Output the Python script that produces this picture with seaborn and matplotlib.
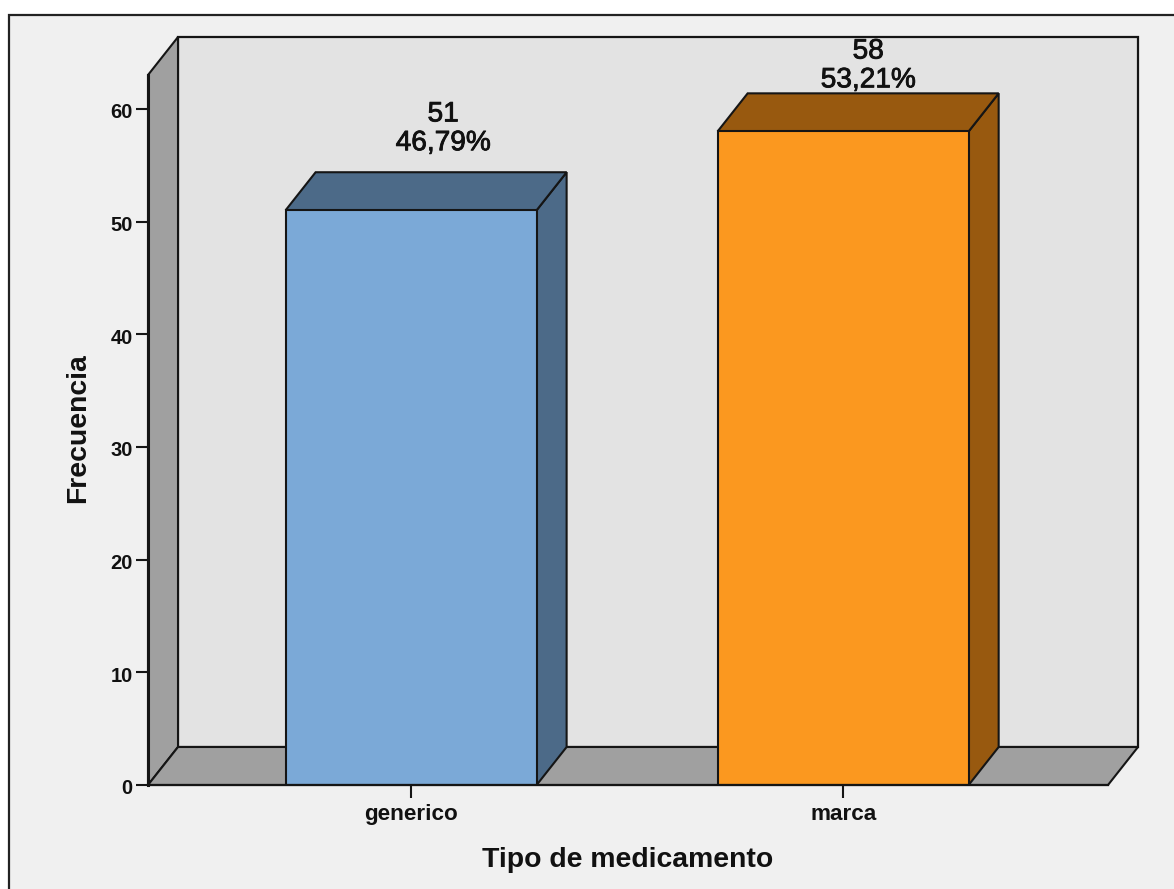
import matplotlib
matplotlib.use("Agg")
import matplotlib.pyplot as plt
from matplotlib import patheffects
from matplotlib.patches import Rectangle
from matplotlib.transforms import ScaledTranslation
import pandas as pd
import seaborn as sns

categories = ["generico", "marca"]
counts = [51, 58]
percents = ["46,79%", "53,21%"]
y_ticks = [0, 10, 20, 30, 40, 50, 60]
face_colors = ["#7BA9D7", "#FB981F"]
side_colors = ["#4C6A88", "#98590F"]
x_title = "Tipo de medicamento"
y_title = "Frecuencia"

W, H = 1174, 889
sns.set_theme(style="white")
plt.rcParams["font.family"] = ["Liberation Sans", "DejaVu Sans"]

fig = plt.figure(figsize=(W / 100, H / 100), dpi=100, facecolor="white")

# Chart panel: light grey area with a dark border, running off the right and bottom edges
fig.patches.append(Rectangle((9 / W, -0.02), 1.02, (H - 15) / H + 0.02, transform=fig.transFigure,
                             facecolor="#F0F0F0", edgecolor="#222222", linewidth=1.6, zorder=-5))

left, right, bottom, top = 148, 1108, 785, 75
ax = fig.add_axes([left / W, 1 - bottom / H, (right - left) / W, (bottom - top) / H])
ax.patch.set_alpha(0)

frame = pd.DataFrame({"tipo": categories, "n": counts})
sns.barplot(data=frame, x="tipo", y="n", hue="tipo", palette=face_colors, saturation=1,
            width=0.581, legend=False, edgecolor="#151515", linewidth=1.5, ax=ax, zorder=5)

x0, x1 = -0.609, 1.613
y0, y1 = 0, 63.0
ax.set_xlim(x0, x1)
ax.set_ylim(y0, y1)

# Depth of the pseudo-3D box, expressed in data units
dx = 30 / (right - left) * (x1 - x0)
dy = 38 / (bottom - top) * (y1 - y0)
line = dict(edgecolor="#151515", clip_on=False)

bars = list(ax.patches)

ax.fill([x0 + dx, x1 + dx, x1 + dx, x0 + dx], [dy, dy, y1 + dy, y1 + dy],
        facecolor="#E3E3E3", linewidth=1.6, zorder=1, **line)
ax.fill([x0, x0 + dx, x0 + dx, x0], [0, dy, y1 + dy, y1],
        facecolor="#A0A0A0", linewidth=1.5, zorder=2, **line)
ax.fill([x0, x1, x1 + dx, x0 + dx], [0, 0, dy, dy],
        facecolor="#A0A0A0", linewidth=1.5, zorder=2, **line)

# The taller bar's label sits closer to its bar so it stays below the top of the box
label_offsets_px = [(32, 16), (25, 0)]

# Side and top faces of each bar, plus its value label
for bar, shade, n, pct, off in zip(bars, side_colors, counts, percents, label_offsets_px):
    a, b = bar.get_x(), bar.get_x() + bar.get_width()
    ax.fill([b, b + dx, b + dx, b], [0, dy, n + dy, n],
            facecolor=shade, linewidth=1.5, zorder=4, **line)
    ax.fill([a, b, b + dx, a + dx], [n, n, n + dy, n + dy],
            facecolor=shade, linewidth=1.5, zorder=4, **line)
    ax.annotate(f"{n}\n{pct}", xy=((a + b) / 2, n + dy), xytext=off, textcoords="offset pixels",
                ha="center", va="bottom", ma="center", fontsize=20.2, linespacing=1.14,
                color="#111111", annotation_clip=False, zorder=6,
                path_effects=[patheffects.withStroke(linewidth=0.6, foreground="#111111")])

ax.set_yticks(y_ticks)
ax.set_xticks(range(len(categories)))
ax.set_xticklabels(categories)
ax.tick_params(axis="y", left=True, length=9, width=1.5, color="#151515", pad=2,
               labelsize=14.5, labelcolor="#111111")
ax.tick_params(axis="x", bottom=True, length=9, width=1.5, color="#151515", pad=4.5,
               labelsize=16.2, labelcolor="#111111")
for lab in ax.get_xticklabels() + ax.get_yticklabels():
    lab.set_fontweight("bold")
for lab in ax.get_yticklabels():
    lab.set_transform(lab.get_transform() + ScaledTranslation(0, -2 / 100, fig.dpi_scale_trans))

ax.set_xlabel("")
ax.set_ylabel("")
fig.text(628 / W, 1 - 860 / H, x_title, ha="center", va="center", fontsize=20.4,
         fontweight="bold", color="#111111")
fig.text(78 / W, 1 - 428 / H, y_title, ha="center", va="center", rotation=90, fontsize=20.4,
         fontweight="bold", color="#111111")

for side in ("top", "right"):
    ax.spines[side].set_visible(False)
ax.spines["left"].set_linewidth(2.2)
ax.spines["bottom"].set_linewidth(1.6)
for side in ("left", "bottom"):
    ax.spines[side].set_color("#151515")
    ax.spines[side].set_zorder(7)

fig.savefig("out.png", dpi=100, facecolor=fig.get_facecolor())
